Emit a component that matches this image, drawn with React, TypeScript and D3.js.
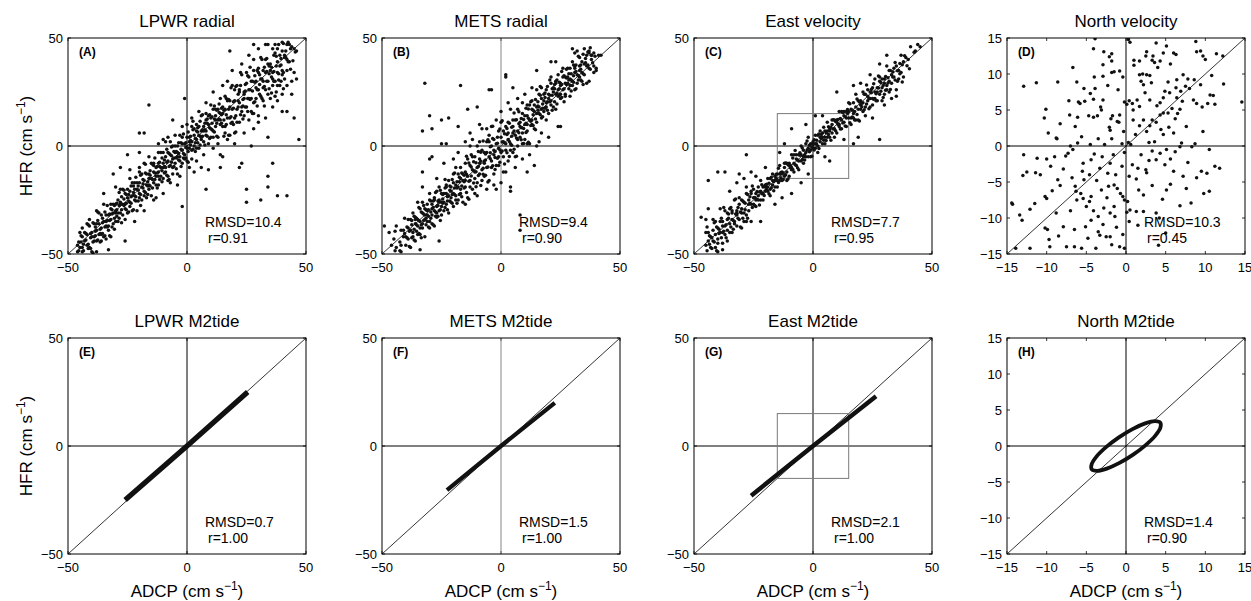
import React from "react";
import * as d3 from "d3";

// ---------- data ----------
const TICKS50 = [-50, 0, 50];
const TICKS15 = [-15, -10, -5, 0, 5, 10, 15];

const titles = ["LPWR radial", "METS radial", "East velocity", "North velocity", "LPWR M2tide", "METS M2tide", "East M2tide", "North M2tide"];
const letters = ["(A)", "(B)", "(C)", "(D)", "(E)", "(F)", "(G)", "(H)"];
const rmsdLabels = ["RMSD=10.4", "RMSD=9.4", "RMSD=7.7", "RMSD=10.3", "RMSD=0.7", "RMSD=1.5", "RMSD=2.1", "RMSD=1.4"];
const rLabels = ["r=0.91", "r=0.90", "r=0.95", "r=0.45", "r=1.00", "r=1.00", "r=1.00", "r=0.90"];
const limits = [50, 50, 50, 15, 50, 50, 50, 15];

const lpwrRadial: [number, number][] = [
[-46,-46],[-46,-49],[-45,-47],[-45,-40],[-44,-49],[-44,-42],[-44,-47],[-43,-40],[-43,-44],[-42,-41],[-42,-46],[-41,-34],[-41,-47],[-41,-37],[-40,-49],[-40,-42],[-40,-40],[-39,-44],[-39,-36],[-39,-42],[-38,-49],[-38,-36],[-38,-39],[-38,-44],[-37,-31],[-37,-41],[-37,-36],[-36,-44],[-36,-38],[-36,-32],[-36,-41],[-35,-35],[-35,-42],[-35,-27],[-34,-37],[-34,-32],[-34,-43],[-34,-35],[-33,-32],[-33,-37],[-33,-39],[-32,-27],[-32,-34],[-32,-42],[-32,-29],[-31,-36],[-31,-31],[-31,-27],[-30,-31],[-30,-35],[-30,-27],[-30,-30],[-29,-35],[-29,-25],[-29,-31],[-28,-20],[-28,-31],[-28,-27],[-28,-26],[-27,-32],[-27,-27],[-27,-20],[-26,-29],[-26,-22],[-26,-27],[-26,-34],[-25,-20],[-25,-24],[-25,-31],[-24,-21],[-24,-26],[-24,-15],[-24,-28],[-23,-17],[-23,-30],[-23,-23],[-22,-20],[-22,-25],[-22,-17],[-22,-23],[-21,-30],[-21,-17],[-21,-20],[-20,-24],[-20,-12],[-20,-22],[-20,-17],[-19,-25],[-19,-19],[-19,-13],[-18,-21],[-18,-16],[-18,-23],[-18,-8],[-17,-18],[-17,-13],[-17,-24],[-16,-15],[-16,-13],[-16,-18],[-16,-20],[-15,-8],[-15,-15],[-15,-23],[-14,-9],[-14,-17],[-14,-12],[-14,-8],[-13,-14],[-13,-18],[-13,-10],[-12,-12],[-12,-18],[-12,-8],[-12,-14],[-11,-3],[-11,-14],[-11,-10],[-10,-8],[-10,-15],[-10,-10],[-10,-3],[-9,-12],[-9,-5],[-9,-10],[-8,-16],[-8,-3],[-8,-7],[-8,-14],[-7,-4],[-7,-9],[-7,2],[-6,-10],[-6,0],[-6,-13],[-6,-6],[-5,-3],[-5,-8],[-5,0],[-4,-5],[-4,-13],[-4,0],[-4,-3],[-3,-7],[-3,5],[-3,-5],[-2,1],[-2,-8],[-2,-2],[-2,4],[-1,-4],[-1,1],[-1,-6],[0,10],[0,-1],[0,4],[0,-7],[1,2],[1,4],[1,-1],[2,-2],[2,9],[2,2],[2,-6],[3,8],[3,0],[3,5],[4,10],[4,3],[4,-1],[4,7],[5,5],[5,-1],[5,9],[6,4],[6,14],[6,3],[6,7],[7,9],[7,2],[7,7],[8,15],[8,5],[8,12],[8,7],[9,1],[9,14],[9,10],[10,4],[10,13],[10,8],[10,19],[11,7],[11,17],[11,4],[12,12],[12,14],[12,9],[12,17],[13,12],[13,4],[13,17],[14,15],[14,10],[14,22],[14,12],[15,18],[15,9],[15,15],[16,23],[16,9],[16,17],[16,6],[17,30],[17,13],[17,21],[18,5],[18,18],[18,21],[18,13],[19,11],[19,28],[19,17],[20,6],[20,26],[20,13],[20,21],[21,28],[21,17],[21,11],[22,25],[22,20],[22,11],[22,26],[23,18],[23,33],[23,16],[24,24],[24,25],[24,14],[24,22],[25,34],[25,18],[25,29],[26,22],[26,12],[26,32],[26,26],[27,16],[27,30],[27,22],[28,40],[28,20],[28,35],[28,15],[29,27],[29,30],[29,22],[30,36],[30,26],[30,14],[30,34],[31,31],[31,23],[31,41],[32,27],[32,35],[32,21],[32,30],[33,40],[33,26],[33,34],[34,24],[34,47],[34,30],[34,38],[35,22],[35,35],[35,38],[36,31],[36,28],[36,45],[36,34],[37,23],[37,43],[37,30],[38,39],[38,45],[38,34],[38,28],[39,42],[39,37],[39,28],[40,44],[40,35],[40,48],[40,33],[41,41],[41,42],[41,31],[42,40],[42,47],[42,35],[43,47],[43,39],[44,30],[44,46],[45,45],[45,34],[46,44],
[-16,19],[-6,12],[-20,6],[-18,6],[-1,22],[18,44],[47,3],[34,4],[27,0],[23,-8],[22,-10],[36,-8],[34,-14],[31,-25],[25,-26],[25,-20],[34,-19],[38,-23],[42,-23],[8,-20],[9,-11],[14,-10],[15,-5],[14,-4],[-2,-28],[-31,-13],[-30,-19],[-25,-4],[-20,-3],[-26,-44],[-33,-48],[42,28],[45,13],[42,16],[40,16],[46,31],[44,24],[-10,3],[-12,1],[-8,4],[-13,-24],[-4,-18],[3,-12],[6,-10],
[-24,-11],[-22,-35],[-18,-30],[-14,-25],[-10,-22],[-7,-17],[-3,-14],[1,-10],[4,-7],[7,-4],[11,-1],[13,1],[17,3],[20,1],[24,6],[28,8],[30,11],[33,13],[36,18],[38,21],[40,24],[-28,-10],[-20,-10],[-16,-5],[-12,-3],[-9,2],[-5,5],[-2,9],[2,13],[5,16],[8,20],[11,25],[15,28],[19,35],[23,38],[26,42],[30,45],[33,47],[37,47],[28,47],[-35,-22],[-38,-30],[-42,-36],[-44,-38]
];
const lpwrRadial2: [number, number][] = [
[-45.5,-44.5],[-45.5,-48.5],[-44.5,-44.5],[-44.5,-41.5],[-43.5,-48.5],[-43.5,-45.5],[-42.5,-40.5],[-42.5,-43.5],[-41.5,-47.5],[-41.5,-36.5],[-41.5,-45.5],[-40.5,-40.5],[-40.5,-47.5],[-40.5,-42.5],[-39.5,-35.5],[-39.5,-44.5],[-39.5,-49.5],[-38.5,-37.5],[-38.5,-39.5],[-38.5,-41.5],[-37.5,-34.5],[-37.5,-43.5],[-37.5,-30.5],[-36.5,-40.5],[-36.5,-38.5],[-36.5,-44.5],[-35.5,-33.5],[-35.5,-35.5],[-35.5,-40.5],[-34.5,-30.5],[-34.5,-37.5],[-34.5,-41.5],[-33.5,-34.5],[-33.5,-27.5],[-33.5,-37.5],[-32.5,-31.5],[-32.5,-41.5],[-32.5,-34.5],[-31.5,-29.5],[-31.5,-37.5],[-31.5,-31.5],[-30.5,-33.5],[-30.5,-27.5],[-30.5,-38.5],[-29.5,-26.5],[-29.5,-29.5],[-29.5,-32.5],[-28.5,-21.5],[-28.5,-33.5],[-28.5,-27.5],[-27.5,-29.5],[-27.5,-23.5],[-27.5,-35.5],[-26.5,-24.5],[-26.5,-20.5],[-26.5,-27.5],[-25.5,-29.5],[-25.5,-22.5],[-25.5,-26.5],[-24.5,-25.5],[-24.5,-30.5],[-24.5,-22.5],[-23.5,-18.5],[-23.5,-26.5],[-23.5,-23.5],[-22.5,-29.5],[-22.5,-18.5],[-22.5,-21.5],[-21.5,-25.5],[-21.5,-14.5],[-21.5,-23.5],[-20.5,-18.5],[-20.5,-25.5],[-20.5,-20.5],[-19.5,-13.5],[-19.5,-22.5],[-19.5,-27.5],[-18.5,-15.5],[-18.5,-17.5],[-18.5,-19.5],[-17.5,-12.5],[-17.5,-21.5],[-17.5,-8.5],[-16.5,-18.5],[-16.5,-16.5],[-16.5,-22.5],[-15.5,-11.5],[-15.5,-13.5],[-15.5,-18.5],[-14.5,-8.5],[-14.5,-15.5],[-14.5,-19.5],[-13.5,-12.5],[-13.5,-5.5],[-13.5,-15.5],[-12.5,-9.5],[-12.5,-19.5],[-12.5,-12.5],[-11.5,-7.5],[-11.5,-15.5],[-11.5,-9.5],[-10.5,-11.5],[-10.5,-5.5],[-10.5,-16.5],[-9.5,-6.5],[-9.5,-9.5],[-9.5,-12.5],[-8.5,-1.5],[-8.5,-13.5],[-8.5,-7.5],[-7.5,-9.5],[-7.5,-3.5],[-7.5,-15.5],[-6.5,-4.5],[-6.5,-0.5],[-6.5,-7.5],[-5.5,-9.5],[-5.5,-2.5],[-5.5,-5.5],[-4.5,-5.5],[-4.5,-10.5],[-4.5,-2.5],[-3.5,1.5],[-3.5,-6.5],[-3.5,-3.5],[-2.5,-9.5],[-2.5,1.5],[-2.5,-1.5],[-1.5,-5.5],[-1.5,5.5],[-1.5,-3.5],[-0.5,1.5],[-0.5,-5.5],[-0.5,-0.5],[0.5,6.5],[0.5,-2.5],[0.5,-7.5],[1.5,4.5],[1.5,2.5],[1.5,0.5],[2.5,7.5],[2.5,-1.5],[2.5,11.5],[3.5,1.5],[3.5,3.5],[3.5,-2.5],[4.5,8.5],[4.5,6.5],[4.5,1.5],[5.5,11.5],[5.5,4.5],[5.5,0.5],[6.5,7.5],[6.5,14.5],[6.5,4.5],[7.5,10.5],[7.5,0.5],[7.5,7.5],[8.5,12.5],[8.5,4.5],[8.5,10.5],[9.5,8.5],[9.5,14.5],[9.5,3.5],[10.5,13.5],[10.5,10.5],[10.5,7.5],[11.5,18.5],[11.5,6.5],[11.5,12.5],[12.5,10.5],[12.5,16.5],[12.5,4.5],[13.5,15.5],[13.5,19.5],[13.5,12.5],[14.5,10.5],[14.5,17.5],[14.5,14.5],[15.5,12],[15.5,4.5],[15.5,16.5],[16.5,22],[16.5,10],[16.5,14.5],[17.5,5],[17.5,21.5],[17.5,17],[18.5,10.5],[18.5,27],[18.5,13.5],[19.5,20.5],[19.5,10],[19.5,17.5],[20.5,27.5],[20.5,14],[20.5,6.5],[21.5,24],[21.5,21],[21.5,18],[22.5,28],[22.5,14.5],[22.5,34],[23.5,18.5],[23.5,21.5],[23.5,12.5],[24.5,28.5],[24.5,25.5],[24.5,18],[25.5,32.5],[25.5,22],[25.5,16],[26.5,26],[26.5,36.5],[26.5,21.5],[27.5,30],[27.5,15],[27.5,25.5],[28.5,32.5],[28.5,20.5],[28.5,29.5],[29.5,26],[29.5,35],[29.5,18.5],[30.5,33],[30.5,28.5],[30.5,24],[31.5,40],[31.5,22],[31.5,31],[32.5,27.5],[32.5,36.5],[32.5,18.5],[33.5,34.5],[33.5,40.5],[33.5,30],[34.5,26.5],[34.5,37],[34.5,33.5],[35.5,32],[35.5,24.5],[35.5,36.5],[36.5,42],[36.5,30],[36.5,34.5],[37.5,25],[37.5,41.5],[37.5,37],[38.5,30.5],[38.5,47],[38.5,33.5],[39.5,40.5],[39.5,30],[39.5,37.5],[40.5,47.5],[40.5,34],[40.5,26.5],[41.5,44],[41.5,41],[42.5,39],[42.5,48],[43.5,35.5],[43.5,45],[44.5,39.5],[45.5,43.5]
];

const metsRadial: [number, number][] = [
[-46,-46],[-44,-37],[-44,-47],[-42,-39],[-42,-49],[-41,-42],[-41,-39],[-40,-46],[-40,-42],[-39,-34],[-39,-38],[-39,-43],[-38,-34],[-38,-47],[-38,-39],[-37,-31],[-37,-42],[-37,-40],[-36,-34],[-36,-36],[-36,-44],[-36,-33],[-35,-37],[-35,-26],[-35,-41],[-35,-34],[-34,-38],[-34,-29],[-34,-35],[-34,-41],[-33,-31],[-33,-36],[-33,-26],[-33,-38],[-32,-32],[-32,-29],[-32,-42],[-32,-34],[-31,-27],[-31,-35],[-31,-30],[-31,-32],[-30,-38],[-30,-25],[-30,-35],[-30,-22],[-29,-32],[-29,-27],[-29,-36],[-29,-29],[-28,-24],[-28,-37],[-28,-30],[-28,-25],[-27,-31],[-27,-21],[-27,-28],[-27,-33],[-26,-25],[-26,-26],[-26,-30],[-26,-19],[-25,-28],[-25,-22],[-25,-32],[-25,-26],[-24,-22],[-24,-30],[-24,-26],[-23,-18],[-23,-22],[-23,-27],[-23,-19],[-22,-31],[-22,-23],[-22,-16],[-21,-26],[-21,-24],[-21,-19],[-21,-21],[-20,-28],[-20,-17],[-20,-22],[-19,-10],[-19,-25],[-19,-18],[-19,-23],[-18,-13],[-18,-19],[-18,-25],[-17,-15],[-17,-20],[-17,-10],[-17,-22],[-16,-16],[-16,-13],[-16,-26],[-15,-16],[-15,-8],[-15,-19],[-15,-12],[-14,-14],[-14,-24],[-14,-6],[-13,-19],[-13,0],[-13,-16],[-13,-9],[-12,-20],[-12,-11],[-12,-5],[-11,-22],[-11,-12],[-11,-5],[-11,-15],[-10,0],[-10,-10],[-10,-17],[-9,-6],[-9,-8],[-9,-13],[-9,2],[-8,-11],[-8,-2],[-8,-16],[-7,-7],[-7,-3],[-7,-14],[-7,-8],[-6,2],[-6,-3],[-6,-10],[-5,2],[-5,-16],[-5,-5],[-5,5],[-4,-10],[-4,-7],[-4,0],[-3,-2],[-3,-13],[-3,3],[-3,-4],[-2,12],[-2,-9],[-2,1],[-1,-5],[-1,7],[-1,-1],[-1,-9],[0,4],[0,-3],[0,11],[1,-5],[1,2],[1,7],[1,-12],[2,1],[2,9],[2,-2],[3,6],[3,3],[3,-7],[3,11],[4,-2],[4,17],[4,1],[5,9],[5,-3],[5,6],[5,12],[6,-5],[6,5],[6,12],[7,3],[7,17],[7,7],[7,0],[8,11],[8,9],[8,4],[9,20],[9,6],[9,15],[9,1],[10,10],[10,14],[10,3],[11,10],[11,19],[11,14],[11,7],[12,19],[12,1],[12,12],[13,21],[13,10],[13,12],[13,17],[14,16],[14,8],[14,19],[15,15],[15,26],[15,11],[15,18],[16,15],[16,24],[16,18],[17,13],[17,22],[17,17],[17,27],[18,16],[18,21],[18,24],[19,12],[19,20],[19,26],[19,18],[20,24],[20,22],[20,15],[21,29],[21,19],[21,32],[21,21],[22,27],[22,18],[22,25],[23,30],[23,17],[23,24],[23,29],[24,23],[24,33],[24,26],[25,22],[25,29],[25,28],[25,24],[26,36],[26,26],[26,32],[27,23],[27,29],[27,32],[27,24],[28,29],[28,36],[28,32],[29,28],[29,36],[29,23],[29,31],[30,39],[30,28],[30,30],[31,36],[31,34],[31,26],[31,37],[32,33],[32,44],[32,29],[33,37],[33,32],[33,41],[33,35],[34,30],[34,39],[34,34],[35,45],[35,33],[35,38],[36,42],[36,29],[36,37],[37,44],[37,36],[38,42],[38,40],[39,34],[39,43],[40,36],[40,35],[42,42],
[-32,29],[-17,28],[-30,14],[-29,8],[-33,7],[-25,12],[-22,13],[-18,9],[-25,1],[-23,1],[-29,-5],[-30,-6],[-33,-12],[-33,-19],[-5,26],[-4,26],[-14,17],[-10,18],[2,33],[2,32],[5,27],[4,-19],[4,-21],[11,-12],[14,-9],[24,9],[25,9],[15,0],[11,1],[-49,-37],[-45,-43],[-47,-40],[-42,-46],[-34,-48],[-26,-44],[8,-39],[8,-32],[30,45],[31,43],[37,43],[38,42],[41,42],[39,37],[37,30],[23,39],[21,39],[15,35],[-2,-20],[0,-17],[-6,8],[-9,10],[-13,6],[-15,2],[-20,-6],[-18,-3],[20,4],[17,6],
[-8,8],[-12,3],[-4,9],[0,16],[3,20],[7,22],[10,24],[13,27],[-3,-18],[2,-12],[6,-10],[9,-6],[12,-4],[16,2],[-24,-8],[-20,-13],[-27,-15],[-15,-27],[-10,-23],[-6,-20]
];
const metsRadial2: [number, number][] = [
[-44.5,-48.5],[-44.5,-39.5],[-42.5,-44.5],[-42.5,-48.5],[-40.5,-40.5],[-40.5,-33.5],[-39.5,-42.5],[-39.5,-37.5],[-38.5,-46.5],[-38.5,-39.5],[-37.5,-34.5],[-37.5,-42.5],[-37.5,-36.5],[-36.5,-38.5],[-36.5,-32.5],[-36.5,-43.5],[-35.5,-33.5],[-35.5,-36.5],[-35.5,-39.5],[-34.5,-28.5],[-34.5,-40.5],[-34.5,-34.5],[-33.5,-36.5],[-33.5,-30.5],[-33.5,-42.5],[-32.5,-31.5],[-32.5,-27.5],[-32.5,-34.5],[-31.5,-36.5],[-31.5,-29.5],[-31.5,-33.5],[-30.5,-32.5],[-30.5,-37.5],[-30.5,-29.5],[-29.5,-25.5],[-29.5,-33.5],[-29.5,-30.5],[-28.5,-36.5],[-28.5,-25.5],[-28.5,-28.5],[-27.5,-32.5],[-27.5,-21.5],[-27.5,-30.5],[-26.5,-25.5],[-26.5,-32.5],[-26.5,-27.5],[-25.5,-20.5],[-25.5,-29.5],[-25.5,-34.5],[-24.5,-22.5],[-24.5,-24.5],[-24.5,-26.5],[-23.5,-19.5],[-23.5,-28.5],[-23.5,-15.5],[-22.5,-25.5],[-22.5,-23.5],[-22.5,-29.5],[-21.5,-18.5],[-21.5,-20.5],[-21.5,-25.5],[-20.5,-15.5],[-20.5,-22.5],[-20.5,-26.5],[-19.5,-19.5],[-19.5,-12.5],[-19.5,-22.5],[-18.5,-16.5],[-18.5,-26.5],[-18.5,-19.5],[-17.5,-14.5],[-17.5,-22.5],[-17.5,-16.5],[-16.5,-18.5],[-16.5,-12.5],[-16.5,-23.5],[-15.5,-13.5],[-15.5,-16.5],[-15.5,-19.5],[-14.5,-4.7],[-14.5,-21.5],[-14.5,-13.1],[-13.5,-16.3],[-13.5,-7.9],[-13.5,-24.7],[-12.5,-9.7],[-12.5,-4.1],[-12.5,-13.9],[-11.5,-17.1],[-11.5,-7.3],[-11.5,-11.5],[-10.5,-11.9],[-10.5,-18.9],[-10.5,-7.7],[-9.5,-2.5],[-9.5,-13.7],[-9.5,-9.5],[-8.5,-18.3],[-8.5,-2.9],[-8.5,-7.1],[-7.5,-13.1],[-7.5,2.3],[-7.5,-10.3],[-6.5,-3.7],[-6.5,-13.5],[-6.5,-6.5],[-5.5,2.9],[-5.5,-9.7],[-5.5,-16.7],[-4.5,-0.3],[-4.5,-3.1],[-4.5,-5.9],[-3.5,3.5],[-3.5,-9.1],[-3.5,9.1],[-2.5,-5.3],[-2.5,-2.5],[-2.5,-10.9],[-1.5,4.1],[-1.5,1.3],[-1.5,-5.7],[-0.5,7.9],[-0.5,-1.9],[-0.5,-7.5],[0.5,1.9],[0.5,11.7],[0.5,-2.3],[1.5,5.7],[1.5,-8.3],[1.5,1.5],[2.5,8.1],[2.5,-3.1],[2.5,5.3],[3.5,2.1],[3.5,10.5],[3.5,-4.9],[4.5,8.7],[4.5,4.5],[4.5,0.3],[5.5,15.3],[5.5,-1.5],[5.5,6.9],[6.5,3.7],[6.5,12.1],[6.5,-4.7],[7.5,10.3],[7.5,15.9],[7.5,6.1],[8.5,2.9],[8.5,12.7],[8.5,8.5],[9.5,8.1],[9.5,1.1],[9.5,12.3],[10.5,17.5],[10.5,6.3],[10.5,10.5],[11.5,1.7],[11.5,17.1],[11.5,12.9],[12.5,9.5],[12.5,20.5],[12.5,11.5],[13.5,16.5],[13.5,9.5],[13.5,14.5],[14.5,21.5],[14.5,12.5],[14.5,7.5],[15.5,20.5],[15.5,18.5],[15.5,16.5],[16.5,23.5],[16.5,14.5],[16.5,27.5],[17.5,17.5],[17.5,19.5],[17.5,13.5],[18.5,24.5],[18.5,22.5],[18.5,17.5],[19.5,27.5],[19.5,20.5],[19.5,16.5],[20.5,23.5],[20.5,30.5],[20.5,20.5],[21.5,26.5],[21.5,16.5],[21.5,23.5],[22.5,28.5],[22.5,20.5],[22.5,26.5],[23.5,24.5],[23.5,30.5],[23.5,19.5],[24.5,29.5],[24.5,26.5],[24.5,23.5],[25.5,34.5],[25.5,22.5],[25.5,28.5],[26.5,26.5],[26.5,32.5],[26.5,20.5],[27.5,31.5],[27.5,35.5],[27.5,28.5],[28.5,26.5],[28.5,33.5],[28.5,30.5],[29.5,30.5],[29.5,25.5],[29.5,33.5],[30.5,37.5],[30.5,29.5],[30.5,32.5],[31.5,26.5],[31.5,37.5],[31.5,34.5],[32.5,30.5],[32.5,41.5],[32.5,32.5],[33.5,37.5],[33.5,30.5],[33.5,35.5],[34.5,42.5],[34.5,33.5],[34.5,28.5],[35.5,40.5],[35.5,38.5],[36.5,37.5],[36.5,43.5],[37.5,35.5],[37.5,45.5],[38.5,38.5],[39.5,41.5]
];

const eastVelocity: [number, number][] = [
[-45,-40],[-45,-46],[-44,-40],[-44,-44],[-43,-42],[-43,-47],[-42,-34],[-42,-44],[-42,-39],[-41,-47],[-41,-41],[-41,-35],[-40,-43],[-40,-38],[-40,-45],[-39,-29],[-39,-40],[-39,-35],[-38,-45],[-38,-37],[-38,-35],[-38,-40],[-37,-41],[-37,-30],[-37,-37],[-36,-44],[-36,-31],[-36,-39],[-36,-34],[-35,-29],[-35,-36],[-35,-40],[-34,-31],[-34,-34],[-34,-40],[-34,-30],[-33,-35],[-33,-25],[-33,-36],[-32,-31],[-32,-30],[-32,-37],[-32,-32],[-31,-24],[-31,-34],[-31,-27],[-30,-31],[-30,-38],[-30,-25],[-30,-29],[-29,-35],[-29,-26],[-29,-31],[-28,-19],[-28,-32],[-28,-22],[-28,-35],[-27,-27],[-27,-25],[-27,-30],[-26,-21],[-26,-27],[-26,-35],[-26,-22],[-25,-24],[-25,-27],[-25,-20],[-24,-25],[-24,-22],[-24,-28],[-23,-23],[-23,-19],[-23,-25],[-22,-21],[-22,-25],[-22,-16],[-21,-22],[-21,-19],[-21,-25],[-20,-19],[-20,-18],[-20,-21],[-19,-21],[-19,-15],[-19,-19],[-18,-23],[-18,-15],[-18,-20],[-17,-16],[-17,-13],[-17,-18],[-16,-19],[-16,-14],[-16,-16],[-15,-19],[-15,-13],[-15,-16],[-14,-9],[-14,-16],[-14,-13],[-13,-12],[-13,-16],[-13,-13],[-12,-8],[-12,-14],[-12,-10],[-11,-12],[-11,-16],[-11,-8],[-10,-9],[-10,-14],[-10,-8],[-9,-10],[-9,-4],[-9,-11],[-8,-4],[-8,-12],[-8,-8],[-7,-6],[-7,-9],[-7,-4],[-6,-7],[-6,-11],[-6,-4],[-5,-4],[-5,-7],[-5,0],[-4,-5],[-4,-2],[-4,-8],[-3,-3],[-3,1],[-3,-5],[-2,-1],[-2,-5],[-2,4],[-1,-2],[-1,1],[-1,-5],[0,1],[0,2],[0,-1],[1,-1],[1,5],[1,1],[2,-3],[2,5],[2,0],[3,4],[3,7],[3,2],[4,1],[4,6],[4,4],[5,1],[5,7],[5,4],[6,11],[6,4],[6,7],[7,8],[7,4],[7,7],[8,12],[8,6],[8,10],[9,8],[9,4],[9,12],[10,11],[10,6],[10,12],[11,10],[11,16],[11,9],[12,16],[12,8],[12,12],[13,14],[13,11],[13,16],[14,13],[14,9],[14,16],[15,16],[15,13],[15,20],[16,13],[16,17],[16,10],[17,15],[17,20],[17,13],[18,18],[18,12],[18,24],[19,17],[19,21],[19,12],[20,19],[20,21],[20,17],[21,16],[21,25],[21,20],[22,14],[22,24],[22,18],[23,23],[23,26],[23,21],[24,18],[24,25],[24,22],[25,19],[25,27],[25,22],[26,31],[26,22],[26,25],[27,27],[27,21],[27,25],[28,32],[28,24],[28,30],[29,27],[29,21],[29,31],[30,29],[30,24],[30,31],[31,28],[31,37],[31,26],[32,35],[32,25],[32,30],[33,33],[33,29],[34,36],[34,32],[35,26],[35,37],[36,35],[36,31],[37,42],[37,34],[38,39],[38,32],[39,41],[40,40],[41,46],[43,44],[44,47],[45,46],
[28,3],[10,25],[-9,8],[-28,-4],[-44,-16],[-40,-12],[-37,-12],[17,1],[7,-7],[-12,1],[-14,-3],[-20,-10],[-24,-14],[-32,-17],[-35,-21],[-26,-12],[-22,-35],[-16,-27],[-13,-24],[-9,-22],[-5,-17],[-2,-13],[5,-5],[13,3],[19,4],[25,13],[30,19],[33,22],[35,23],[-38,-48],[-40,-49],[-45,-34],[-47,-33],[-44,-29],[-31,-13],[-29,-15],[1,14],[4,14],[-3,10],[20,29],[24,33],[17,28],[28,38],[31,42]
];
const eastVelocity2: [number, number][] = [
[-44.5,-48.5],[-44.5,-37.5],[-43.5,-45.5],[-43.5,-41.5],[-42.5,-47.5],[-42.5,-42.5],[-41.5,-35.5],[-41.5,-44.5],[-40.5,-48.5],[-40.5,-37.5],[-39.5,-38.5],[-39.5,-40.5],[-38.5,-33.5],[-38.5,-42.5],[-37.5,-28.5],[-37.5,-39.5],[-36.5,-36.5],[-36.5,-42.5],[-35.5,-31.5],[-35.5,-33.5],[-34.5,-37.5],[-34.5,-28.5],[-33.5,-34.5],[-33.5,-38.5],[-32.5,-31.5],[-32.5,-24.5],[-31.5,-33.5],[-31.5,-28.5],[-30.5,-37.5],[-30.5,-30.5],[-29.5,-25.5],[-29.5,-33.5],[-28.5,-26.5],[-28.5,-29.5],[-27.5,-22.5],[-27.5,-33.5],[-26.5,-23.5],[-26.5,-26.5],[-25.5,-28.5],[-25.5,-18.5],[-24.5,-27.5],[-24.5,-23.9],[-23.5,-24.7],[-23.5,-21.1],[-22.5,-27.3],[-22.5,-21.3],[-21.5,-17.9],[-21.5,-22.1],[-20.5,-22.9],[-20.5,-18.7],[-19.5,-17.7],[-19.5,-20.1],[-18.5,-22.1],[-18.5,-17.3],[-17.5,-14.5],[-17.5,-19.3],[-16.5,-16.5],[-16.5,-20.7],[-15.5,-13.1],[-15.5,-14.9],[-14.5,-16.9],[-14.5,-10.3],[-13.5,-14.7],[-13.5,-12.3],[-12.5,-15.5],[-12.5,-12.5],[-11.5,-7.9],[-11.5,-13.3],[-10.5,-15.3],[-10.5,-8.7],[-9.5,-8.9],[-9.5,-10.1],[-8.5,-5.5],[-8.5,-10.9],[-7.5,-2.1],[-7.5,-8.7],[-6.5,-6.5],[-6.5,-10.1],[-5.5,-3.1],[-5.5,-4.3],[-4.5,-6.3],[-4.5,-0.9],[-3.5,-4.1],[-3.5,-6.5],[-2.5,-1.9],[-2.5,2.3],[-1.5,-2.7],[-1.5,0.3],[-0.5,-4.7],[-0.5,-0.5],[0.5,2.9],[0.5,-1.9],[1.5,2.7],[1.5,0.9],[2.5,5.5],[2.5,-1.1],[3.5,5.3],[3.5,3.5],[4.5,2.7],[4.5,8.7],[5.5,2.5],[5.5,6.1],[6.5,5.3],[6.5,8.9],[7.5,2.7],[7.5,8.7],[8.5,12.1],[8.5,7.9],[9.5,7.1],[9.5,11.3],[10.5,12.3],[10.5,9.9],[11.5,7.9],[11.5,12.7],[12.5,15.5],[12.5,10.7],[13.5,13.5],[13.5,9.3],[14.5,16.9],[14.5,15.1],[15.5,10.8],[15.5,19.6],[16.5,13.4],[16.5,16.6],[17.5,12],[17.5,16],[18.5,21.8],[18.5,14.6],[19.5,11.6],[19.5,20.4],[20.5,19.8],[20.5,18.2],[21.5,24],[21.5,16.8],[22.5,28.2],[22.5,19.4],[23.5,22],[23.5,17.2],[24.5,26.2],[24.5,24.6],[25.5,21.6],[25.5,28.8],[26.5,24.2],[26.5,21],[27.5,26.8],[27.5,32.4],[28.5,25.4],[28.5,29.4],[29.5,22.4],[29.5,28],[30.5,32.2],[30.5,25.8],[31.5,31.6],[31.5,29.2],[32.5,35],[32.5,26.2],[33.5,34.4],[33.5,32],[34.5,30.6],[34.5,38.6],[35.5,30],[35.5,34.8],[36.5,33.4],[36.5,38.2],[37.5,29.6],[37.5,37.6],[38.5,41.8],[39.5,37.2],[40.5,35.8],[42.5,43.4]
];

const northVelocity: [number, number][] = [
[-3.9,14.9],[0.3,14.8],[0.5,14.4],[3.8,14.3],[5.1,13.9],[8.8,14.5],[-4.1,13.5],[-2.8,13.1],[-1.8,12.8],[-2.1,12.4],[4.7,12.9],[6.0,12.9],[6.3,12.7],[8.9,13.1],[9.4,13.2],[11.4,12.8],[12.2,12.5],[9.7,12.5],[10.0,12.0],[2.6,13.1],[2.5,12.5],[3.4,12.5],[3.3,11.9],[3.6,11.6],[4.3,11.8],[1.0,11.9],[1.0,11.2],[1.7,11.8],[-1.8,11.8],[-6.7,10.9],[-2.9,11.3],[-1.5,10.3],[-0.8,10.4],[2.1,10.0],[4.0,10.9],[5.6,11.4],[-12.9,8.3],[-11.3,8.8],
[-8.6,8.9],[-6.2,8.9],[-4.0,9.6],[-1.8,10.2],[-0.4,9.6],[-2.9,9.7],[-3.9,8.0],[1.7,9.9],[2.6,9.9],[3.0,9.8],[1.9,9.0],[2.2,8.5],[3.2,8.8],[5.3,8.9],[6.4,9.2],[7.2,9.9],[7.8,9.3],[8.6,9.2],[10.8,9.8],[8.0,8.0],[9.4,8.5],[10.6,7.1],[4.9,7.6],[4.7,6.7],[5.5,7.4],[6.4,6.7],[2.4,7.4],[3.0,6.4],[1.4,6.4],[0.4,6.3],[-2.9,6.4],[-3.2,5.4],[-3.1,5.0],[-4.1,6.5],[-5.2,6.2],[-6.0,6.1],[-5.3,8.0],[-7.2,6.3],[8.5,6.4],[7.1,6.2],[11.2,5.8],[14.6,6.1],[9.6,5.4],[12.3,8.6],[-1.0,7.8],[-0.2,6.1],[0.1,5.8],[0.8,5.9],[1.7,5.5],[-4.5,7.3],[-5.8,5.9],[-2.3,8.4],[6.9,7.6],[7.5,8.3],[6.3,8.1],[3.9,5.6],[4.3,6.0],[5.8,5.2],[6.8,5.1],[8.9,5.9],[10.3,5.9],[11.0,7.0],
[-10.1,5.1],[-10.3,3.9],[-8.3,3.1],[-8.7,1.0],[-9.8,1.8],[-8.8,1.1],[-7.1,4.3],[-6.1,4.0],[-6.4,2.7],[-5.6,1.3],[-4.7,4.2],[-4.1,4.0],[-3.6,4.2],[-1.7,4.2],[-1.9,3.8],[-0.8,4.3],[-1.1,3.4],[-0.9,3.3],[-2.1,2.6],[-2.0,2.2],[-1.8,1.0],[-3.5,1.0],[0.9,5.0],[0.9,3.6],[2.2,3.6],[3.3,3.6],[4.3,4.3],[4.7,4.6],[5.3,4.6],[6.5,4.5],[6.2,3.8],[3.8,3.3],[3.0,2.8],[1.7,2.8],[4.4,2.3],[4.7,1.6],[2.6,2.0],[7.6,2.7],[9.7,2.0],[1.2,1.6],[0.3,0.5],[0.6,0.2],[-0.5,0.3],[-0.3,2.0],[2.9,0.5],[3.6,0.6],[5.4,2.6],[6.0,1.8],[7.0,0.4],[8.7,0.3],[-7.0,0.0],[-6.1,0.4],[-4.5,0.2],[-2.7,0.2],[-12.9,-1.2],
[-11.2,-1.7],[-10.0,-1.8],[-9.0,-1.5],[-9.5,-2.8],[-11.4,-3.7],[-10.8,-4.0],[-8.6,-4.7],[-7.6,-1.4],[-7.3,-1.0],[-6.7,-0.5],[-5.3,-4.7],[-5.5,-3.5],[-4.6,-4.0],[-5.4,-2.4],[-4.4,-1.9],[-4.0,-1.1],[-3.0,-1.5],[-3.3,-3.1],[-2.3,-3.8],[-1.3,-4.0],[-2.0,-2.4],[-1.6,-1.2],[-0.5,-2.8],[-0.2,-0.9],[0.8,-2.6],[1.5,-3.1],[2.5,-3.3],[2.6,-3.7],[3.8,-1.9],[4.3,-1.0],[5.1,-0.5],[6.2,-0.8],[6.8,-0.1],[8.3,-0.1],[10.5,-0.5],[6.0,-3.5],[7.2,-4.2],[9.5,-3.5],[10.2,-3.8],[11.2,-2.8],[11.8,-3.1],[1.9,-1.2],[2.9,-2.0],[3.3,-0.7],[4.9,-2.6],[5.6,-1.8],[7.8,-2.3],[8.9,-4.4],[0.4,-4.2],[1.3,-4.6],[-13.0,-4.1],[-12.5,-3.6],[-6.8,-4.4],[-7.9,-3.2],[-3.7,-4.8],
[-14.4,-7.9],[-14.3,-8.1],[-11.5,-8.0],[-10.2,-7.0],[-10.0,-7.3],[-7.0,-9.0],[-6.2,-7.5],[-5.4,-7.3],[-4.6,-7.7],[-4.4,-7.0],[-6.4,-5.6],[-6.3,-6.3],[-5.0,-8.4],[-5.7,-6.6],[-1.5,-5.4],[-1.1,-5.9],[-0.7,-6.6],[-0.4,-7.0],[-0.2,-7.5],[0.2,-7.7],[0.5,-8.9],[0.1,-9.2],[1.3,-9.1],[-1.4,-9.8],[-2.0,-9.3],[-1.5,-8.4],[-2.8,-8.6],[-3.5,-9.8],[-2.4,-7.2],[-3.1,-6.1],[-2.2,-5.6],[-4.1,-9.0],[10.5,-6.3],[5.1,-6.1],[2.2,-6.8],[1.6,-6.1],[3.8,-9.3],[2.2,-9.1],[4.2,-10.0],[5.6,-5.3],[7.6,-5.9],[8.2,-7.9],[9.8,-6.6],[3.3,-5.5],[4.6,-7.4],[6.8,-8.3],[-8.3,-5.5],[-8.8,-9.3],[-12.1,-8.8],[-9.3,-6.2],
[-13.4,-9.6],[-13.1,-10.3],[-10.2,-11.4],[-9.7,-13.0],[-4.4,-10.3],[-5.1,-11.2],[-3.5,-11.9],[-3.3,-12.4],[-2.5,-12.6],[-2.0,-12.6],[-1.8,-13.7],[-0.8,-14.0],[-3.8,-14.2],[-0.2,-14.2],[-5.6,-14.2],[-6.5,-14.0],[-7.5,-14.0],[-9.6,-14.0],[-12.1,-14.2],[-13.9,-14.2],[-6.5,-11.6],[0.4,-10.5],[4.1,-13.8],[5.0,-12.1],[-4.8,-12.8],[-2.9,-10.9],[-1.2,-11.3],[-0.4,-12.3],[1.5,-11.0],[-7.9,-11.2],[-8.5,-12.5],[-9.9,-11.6]
];

// M2 tide hodographs (ADCP, HFR)
const lpwrTide: [number, number][] = [[-26, -25], [0, 0], [25.5, 25]];
const metsTide: [number, number][] = [[-22.7, -20.4], [0, 0], [22.6, 20]];
const eastTide: [number, number][] = [[-26, -23], [0, 0], [26.5, 23]];
const northTide: [number, number][] = [
[4.32,3.24],[3.65,3.45],[2.42,3.14],[0.82,2.35],[-0.9,1.2],[-2.48,-0.13],[-3.7,-1.44],[-4.33,-2.53],
[-4.32,-3.24],[-3.65,-3.45],[-2.42,-3.14],[-0.82,-2.35],[0.9,-1.2],[2.48,0.13],[3.7,1.44],[4.33,2.53]
];

// ---------- layout ----------
const COL_X = [68, 382, 694, 1007];
const ROW_Y = [38, 338];
const PW = 238;
const PH = 216;
const FONT = "'Liberation Sans', Arial, Helvetica, sans-serif";

type PanelCfg = {
  idx: number;
  col: number;
  row: number;
  lim: number;
  pts?: [number, number][];
  tide?: [number, number][];
  tideWidth?: number;
  closed?: boolean;
  grayZeroV?: boolean;
  box?: number;
};

const panels: PanelCfg[] = [
  { idx: 0, col: 0, row: 0, lim: limits[0], pts: lpwrRadial.concat(lpwrRadial2) },
  { idx: 1, col: 1, row: 0, lim: limits[1], pts: metsRadial.concat(metsRadial2), grayZeroV: true },
  { idx: 2, col: 2, row: 0, lim: limits[2], pts: eastVelocity.concat(eastVelocity2), box: 15 },
  { idx: 3, col: 3, row: 0, lim: limits[3], pts: northVelocity },
  { idx: 4, col: 0, row: 1, lim: limits[4], tide: lpwrTide, tideWidth: 5.2 },
  { idx: 5, col: 1, row: 1, lim: limits[5], tide: metsTide, tideWidth: 4.2, grayZeroV: true },
  { idx: 6, col: 2, row: 1, lim: limits[6], tide: eastTide, tideWidth: 4.4, box: 15 },
  { idx: 7, col: 3, row: 1, lim: limits[7], tide: northTide, tideWidth: 3.8, closed: true },
];

const fmt = (v: number) => (v < 0 ? "\u2212" + Math.abs(v) : String(v));

function Panel({ p }: { p: PanelCfg }) {
  const left = COL_X[p.col];
  const top = ROW_Y[p.row];
  const x = d3.scaleLinear().domain([-p.lim, p.lim]).range([left, left + PW]);
  const y = d3.scaleLinear().domain([-p.lim, p.lim]).range([top + PH, top]);
  const ticks = p.lim === 50 ? TICKS50 : TICKS15;
  const clipId = "clip" + p.idx;
  const line = d3
    .line<[number, number]>()
    .x((d) => x(d[0]))
    .y((d) => y(d[1]))
    .curve(p.closed ? d3.curveCatmullRomClosed.alpha(0.5) : d3.curveLinear);
  const tl = 3;
  return (
    <g>
      <defs>
        <clipPath id={clipId}>
          <rect x={left} y={top} width={PW} height={PH} />
        </clipPath>
      </defs>
      <text x={left + PW / 2} y={top - 11} textAnchor="middle" fontSize={17} fontFamily={FONT}>
        {titles[p.idx]}
      </text>
      {ticks.map((t) => (
        <g key={"t" + t} stroke="#000" strokeWidth={0.8}>
          <line x1={x(t)} x2={x(t)} y1={top + PH} y2={top + PH - tl} />
          <line x1={x(t)} x2={x(t)} y1={top} y2={top + tl} />
          <line x1={left} x2={left + tl} y1={y(t)} y2={y(t)} />
          <line x1={left + PW} x2={left + PW - tl} y1={y(t)} y2={y(t)} />
        </g>
      ))}
      {ticks.map((t) => (
        <text key={"xl" + t} x={x(t)} y={top + PH + 18} textAnchor="middle" fontSize={13} fontFamily={FONT}>
          {fmt(t)}
        </text>
      ))}
      {ticks.map((t) => (
        <text key={"yl" + t} x={left - 5} y={y(t)} dy="0.36em" textAnchor="end" fontSize={13} fontFamily={FONT}>
          {fmt(t)}
        </text>
      ))}
      <g clipPath={`url(#${clipId})`}>
        <line x1={x(-p.lim)} y1={y(-p.lim)} x2={x(p.lim)} y2={y(p.lim)} stroke="#000" strokeWidth={0.8} />
        <line x1={left} x2={left + PW} y1={y(0)} y2={y(0)} stroke="#000" strokeWidth={1} />
        <line x1={x(0)} x2={x(0)} y1={top} y2={top + PH} stroke={p.grayZeroV ? "#858585" : "#000"} strokeWidth={1} />
        {p.box ? (
          <rect
            x={x(-p.box)}
            y={y(p.box)}
            width={x(p.box) - x(-p.box)}
            height={y(-p.box) - y(p.box)}
            fill="none"
            stroke="#7a7a7a"
            strokeWidth={1}
          />
        ) : null}
        {p.pts ? p.pts.map((d, i) => <circle key={i} cx={x(d[0])} cy={y(d[1])} r={1.75} fill="#111" />) : null}
        {p.tide ? (
          <path d={line(p.tide) || ""} fill="none" stroke="#111" strokeWidth={p.tideWidth} strokeLinecap="butt" />
        ) : null}
      </g>
      <rect x={left} y={top} width={PW} height={PH} fill="none" stroke="#000" strokeWidth={1} />
      <text x={left + 11} y={top + 18} fontSize={12} fontWeight="bold" fontFamily={FONT}>
        {letters[p.idx]}
      </text>
      <text x={left + 137} y={top + 189} fontSize={14} fontFamily={FONT}>
        {rmsdLabels[p.idx]}
      </text>
      <text x={left + 140} y={top + 205} fontSize={14} fontFamily={FONT}>
        {rLabels[p.idx]}
      </text>
      {p.col === 0 ? (
        <text transform={`translate(32,${top + PH / 2}) rotate(-90)`} textAnchor="middle" fontSize={17} fontFamily={FONT}>
          HFR (cm s
          <tspan dy={-7} fontSize={12}>
            {"\u22121"}
          </tspan>
          <tspan dy={7}>)</tspan>
        </text>
      ) : null}
      {p.row === 1 ? (
        <text x={left + PW / 2} y={597} textAnchor="middle" fontSize={17} fontFamily={FONT}>
          ADCP (cm s
          <tspan dy={-7} fontSize={12}>
            {"\u22121"}
          </tspan>
          <tspan dy={7}>)</tspan>
        </text>
      ) : null}
    </g>
  );
}

export default function App() {
  return (
    <svg width={1251} height={601} style={{ position: "absolute", left: 0, top: 0, background: "#fff" }} xmlns="http://www.w3.org/2000/svg">
      <rect x={0} y={0} width={1251} height={601} fill="#fff" />
      {panels.map((p) => (
        <Panel key={p.idx} p={p} />
      ))}
    </svg>
  );
}
